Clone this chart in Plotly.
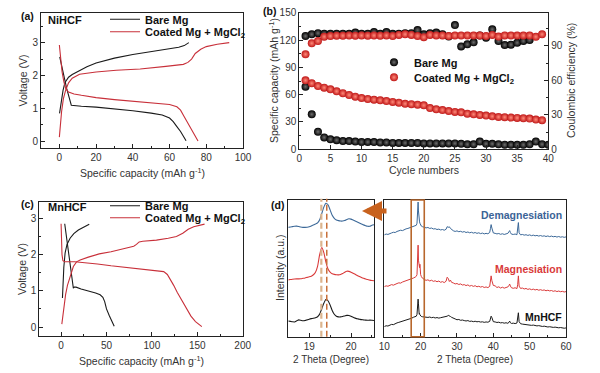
import plotly.graph_objects as go

F = "Liberation Sans, Arial, sans-serif"
W, H = 600, 373

# ---------------- Panel (a) NiHCF voltage profiles ----------------
a_bare_chg_cap = [0.1, 1, 2, 3, 5, 7, 10, 15, 20, 30, 40, 50, 60, 65, 68, 70.5]
a_bare_chg_v = [0.85, 1.2, 1.55, 1.78, 1.95, 2.03, 2.13, 2.27, 2.38, 2.53, 2.64, 2.72, 2.8, 2.86, 2.91, 3.0]
a_bare_dis_cap = [0.2, 2, 4, 6.5, 8, 12, 20, 30, 40, 50, 56, 60, 62, 64, 66, 69]
a_bare_dis_v = [2.57, 2.1, 1.6, 1.1, 1.09, 1.07, 1.04, 0.99, 0.93, 0.86, 0.8, 0.71, 0.6, 0.45, 0.3, 0.02]
a_coat_chg_cap = [0, 0.5, 1.2, 2.2, 3.4, 5, 7, 11, 20, 31, 44, 58, 64, 67.5, 70, 72, 74, 77, 80, 86, 92.5]
a_coat_chg_v = [0.13, 0.5, 0.9, 1.3, 1.55, 1.78, 1.92, 2.04, 2.11, 2.16, 2.2, 2.28, 2.31, 2.34, 2.4, 2.5, 2.67, 2.8, 2.88, 2.95, 3.0]
a_coat_dis_cap = [0, 0.7, 1.5, 2.5, 3.5, 5, 8, 12, 20, 30, 44, 55, 60, 64, 66, 68, 70, 72.5, 75.5]
a_coat_dis_v = [2.93, 2.5, 2.1, 1.8, 1.6, 1.5, 1.44, 1.4, 1.33, 1.27, 1.2, 1.15, 1.12, 1.05, 0.95, 0.75, 0.55, 0.3, 0.01]

# ---------------- Panel (b) cycling ----------------
b_cycles = [1, 2, 3, 4, 5, 6, 7, 8, 9, 10, 11, 12, 13, 14, 15, 16, 17, 18, 19, 20,
            21, 22, 23, 24, 25, 26, 27, 28, 29, 30, 31, 32, 33, 34, 35, 36, 37, 38, 39, 40]
b_bare_cap = [68.7, 38.4, 19.3, 13, 11, 10, 9, 9, 8.5, 8, 8, 8, 7.5, 7.5, 7, 7, 7, 7, 7, 6.5,
              6.5, 6.5, 6.5, 6.5, 6.5, 6, 5.5, 5.5, 8.5, 6, 6, 5.5, 5, 5, 5, 5, 5.5, 8.5, 5.5, 5]
b_coat_cap = [75.7, 72.5, 69.5, 67.7, 65.9, 63.7, 61.5, 59.6, 57.8, 56.3, 55.2, 54.5, 53.8, 53, 52,
              51.2, 50, 49.5, 49, 48.3, 45.3, 43.9, 43.1, 42, 41, 40.6, 39.1, 38.4, 37.7, 37,
              36.2, 35.5, 35.2, 34.8, 34.5, 34.1, 33.7, 32.6, 31.9]
b_bare_ce = [98.5, 100, 101, 100.5, 100.5, 100.5, 100.5, 100.5, 101.5, 100.5, 100.5, 102, 100.5,
             102, 100.5, 100.5, 101, 101, 103.7, 100, 101, 101.5, 100, 98, 108, 89.5, 91.3, 93,
             99, 97, 104.3, 94.2, 90.7, 91, 92.7, 94.2, 95]
b_coat_ce = [82.6, 92.2, 94.2, 97.9, 98.5, 98.8, 98.8, 99, 98.8, 99, 98.8, 99, 98.8, 99, 98.5,
             99.5, 100, 99.5, 98.5, 97.5, 99.5, 99, 99, 98.5, 99, 99, 99, 99, 99, 98.5, 99.5,
             98, 99, 99, 99, 99, 99, 97.9, 100]

# ---------------- Panel (c) MnHCF voltage profiles ----------------
c_bare_chg_cap = [1.5, 2, 3, 4.4, 6.5, 9.9, 14, 19, 25, 31]
c_bare_chg_v = [0.8, 1.2, 1.65, 2.04, 2.28, 2.45, 2.58, 2.68, 2.77, 2.84]
c_bare_dis_cap = [4, 6, 8, 10, 12, 13.5, 14.5, 16.5, 22, 30, 38, 43, 46, 48, 50, 53, 56, 58.5]
c_bare_dis_v = [2.85, 2.45, 2.05, 1.7, 1.35, 1.07, 1.1, 1.1, 1.05, 1.0, 0.94, 0.89, 0.82, 0.7, 0.5, 0.32, 0.15, 0.02]
c_coat_chg_cap = [0.8, 2, 3.5, 5, 7, 10, 13.5, 17, 21, 30, 42, 55, 70, 80, 83, 86, 90, 105, 118,
                  127, 134, 140, 146, 152, 158]
c_coat_chg_v = [0.08, 0.35, 0.65, 0.9, 1.15, 1.4, 1.67, 1.8, 1.85, 1.93, 2.02, 2.08, 2.17, 2.23,
                2.28, 2.35, 2.37, 2.4, 2.45, 2.5, 2.59, 2.7, 2.77, 2.81, 2.84]
c_coat_dis_cap = [0, 0.5, 1, 2, 4, 15, 25, 40, 55, 70, 90, 105, 113, 117, 120, 124, 128, 133, 138,
                  143, 148, 152, 155]
c_coat_dis_v = [2.85, 2.4, 2.0, 1.83, 1.8, 1.8, 1.78, 1.74, 1.69, 1.65, 1.6, 1.57, 1.53, 1.45, 1.33,
                1.15, 0.95, 0.72, 0.5, 0.3, 0.15, 0.06, 0.01]

# ---------------- Panel (d) XRD, zoomed ----------------
dl_2theta = [18.50, 18.55, 18.60, 18.65, 18.70, 18.75, 18.80, 18.85, 18.90, 18.95, 19.00, 19.05,
             19.10, 19.15, 19.20, 19.25, 19.30, 19.35, 19.40, 19.45, 19.50, 19.55, 19.60, 19.65,
             19.70, 19.75, 19.80, 19.85, 19.90, 19.95, 20.00, 20.05, 20.10, 20.15, 20.20, 20.25,
             20.30, 20.35, 20.40, 20.45, 20.50, 20.55]
dl_demag = [80.0, 80.2, 80.5, 80.8, 80.9, 80.6, 80.2, 80.0, 80.0, 80.1, 80.4, 81.0, 81.8, 82.5,
            83.3, 85.5, 90.0, 94.8, 97.6, 96.5, 92.8, 88.8, 86.6, 85.4, 84.9, 84.6, 84.6, 85.0,
            85.8, 86.3, 86.0, 85.3, 84.6, 83.9, 83.2, 82.5, 81.8, 81.2, 80.8, 80.8, 81.5, 81.9]
dl_mag = [41.6, 41.8, 42.0, 42.2, 42.3, 42.3, 42.4, 42.7, 43.0, 43.4, 43.8, 44.3, 45.3, 47.2,
          51.5, 60.0, 65.2, 61.5, 54.5, 49.5, 47.3, 46.1, 45.6, 45.3, 45.2, 45.5, 46.2, 47.2,
          47.9, 47.8, 47.2, 46.4, 45.6, 44.8, 44.0, 43.3, 42.7, 42.2, 41.8, 41.4, 41.1, 40.9]
dl_pristine = [11.5, 11.2, 10.9, 10.8, 11.6, 12.3, 12.0, 11.7, 11.8, 12.3, 12.8, 13.2, 13.5, 13.9,
               14.6, 16.5, 20.5, 24.5, 27.2, 26.3, 23.2, 19.2, 16.4, 15.0, 14.5, 14.5, 14.8, 15.2,
               15.6, 15.5, 14.9, 14.2, 13.6, 13.1, 12.8, 12.5, 12.3, 12.1, 12.0, 12.1, 12.0, 11.8]
ref_peaks = [19.29, 19.42]

# ---------------- Panel (d) XRD, full ----------------
dr_2theta = [10.0, 10.5, 11.0, 11.5, 12.0, 12.5, 13.0, 13.5, 14.0, 14.5, 15.0, 15.5, 16.0, 16.5,
             17.0, 17.5, 18.0, 18.5,
             18.8, 19.0, 19.1, 19.2, 19.3, 19.4, 19.5, 19.6, 19.7, 19.8, 19.9, 20.0, 20.2, 20.5,
             21.0, 21.5, 22.0, 22.5, 23.0, 23.5, 24.0, 24.5, 25.0, 25.5, 26.0, 26.5, 27.0,
             27.3, 27.6, 27.9, 28.2, 28.5,
             29.0, 29.5, 30.0, 30.5, 31.0, 31.5, 32.0, 32.5, 33.0, 33.5, 34.0, 34.5, 35.0, 35.5,
             36.0, 36.5, 37.0, 37.5, 38.0, 38.5, 39.0,
             39.2, 39.4, 39.6, 39.8, 40.0,
             40.5, 41.0, 41.5, 42.0, 42.5, 43.0, 43.5, 44.0,
             44.3, 44.5, 44.7, 45.0,
             45.5, 46.0, 46.5, 46.7, 46.9, 47.1, 47.5,
             48.0, 48.5, 49.0, 49.5, 50.0, 50.5, 51.0, 51.5, 52.0, 52.5, 53.0, 53.5, 54.0, 54.5,
             55.0, 55.5, 56.0, 56.5, 57.0, 57.5, 58.0, 58.5, 59.0, 59.5, 60.0]
dr_pristine = [7.4, 8.0, 7.8, 8.6, 9.0, 8.8, 9.7, 10.1, 10.5, 10.9, 11.4, 11.6, 12.3, 12.6, 13.2,
               13.5, 14.2, 14.6,
               15.0, 16.3, 18.5, 22.5, 27.5, 24.0, 18.0, 16.5, 17.0, 16.0, 15.4, 15.0, 14.8, 14.6,
               14.4, 14.7, 14.1, 14.4, 13.9, 14.2, 13.7, 14.0, 13.6, 13.9, 14.1, 14.3, 14.6,
               15.0, 15.6, 15.4, 14.8, 14.2,
               13.3, 13.0, 12.4, 12.6, 12.0, 12.2, 11.8, 11.5, 11.8, 11.2, 11.4, 11.0, 11.3, 10.9,
               11.1, 10.7, 10.9, 10.5, 10.8, 10.6, 11.2,
               13.0, 15.0, 14.0, 12.0, 11.0,
               10.8, 10.4, 10.6, 10.1, 10.3, 9.9, 10.2, 9.8,
               10.5, 11.4, 10.2, 9.7,
               9.9, 9.6, 10.0, 13.0, 17.5, 11.0, 9.5,
               9.2, 9.0, 8.7, 8.9, 8.5, 8.3, 8.5, 8.1, 7.9, 8.1, 7.7, 7.5, 7.7, 7.3, 7.1, 7.3, 6.9,
               6.8, 7.0, 6.6, 6.5, 6.7, 6.3, 6.2, 6.4]
dr_mag = [36.6, 37.2, 36.9, 37.8, 38.1, 37.7, 38.6, 38.9, 39.4, 39.2, 40.0, 40.4, 40.9, 41.3, 41.8,
          42.4, 42.9, 43.6,
          44.2, 45.5, 50.0, 58.0, 67.0, 56.0, 51.0, 52.5, 50.5, 53.0, 47.5, 45.4, 44.0, 42.8,
          41.9, 41.2, 41.6, 40.8, 41.3, 40.5, 40.9, 40.2, 40.7, 39.8, 40.3, 39.6, 40.6,
          43.5, 42.6, 40.4, 41.4, 39.8,
          39.3, 38.6, 38.9, 38.2, 38.6, 37.8, 38.1, 37.4, 37.9, 37.0, 37.5, 36.8, 37.3, 36.5,
          36.9, 36.3, 36.7, 36.0, 36.4, 35.9, 36.8,
          40.0, 44.5, 41.0, 38.0, 37.5,
          37.2, 36.0, 36.5, 35.6, 36.2, 35.5, 36.0, 36.4,
          37.5, 38.5, 37.0, 35.8,
          35.4, 35.8, 35.2, 38.0, 44.5, 37.0, 35.3,
          35.6, 34.9, 35.3, 34.6, 35.0, 34.4, 34.8, 34.2, 34.6, 34.0, 34.4, 33.9, 34.2, 33.6,
          34.0, 33.5, 33.8, 33.2, 33.6, 33.0, 33.4, 32.9, 33.2, 32.7, 33.0]
dr_demag = [74.5, 75.1, 74.8, 75.6, 75.9, 76.4, 76.2, 77.0, 77.4, 77.9, 77.6, 78.4, 78.9, 79.2,
            79.8, 80.1, 80.6, 81.0,
            81.5, 83.0, 88.0, 94.0, 98.5, 92.0, 86.0, 85.5, 84.0, 83.0, 82.2, 81.6, 80.9, 80.5,
            80.2, 79.6, 79.9, 79.2, 79.5, 78.8, 79.0, 78.4, 78.7, 78.1, 78.4, 77.9, 78.6,
            80.5, 80.0, 80.4, 79.2, 78.3,
            77.5, 77.0, 77.4, 76.8, 77.1, 76.5, 76.9, 76.2, 76.6, 76.0, 76.4, 75.8, 76.2, 75.6,
            76.0, 75.4, 75.8, 75.2, 75.6, 75.3, 76.2,
            79.0, 82.0, 79.5, 76.8, 75.9,
            75.6, 75.2, 75.5, 74.9, 75.3, 74.8, 75.2, 75.6,
            76.8, 77.6, 76.2, 75.0,
            74.8, 75.1, 74.6, 78.0, 83.5, 76.0, 74.5,
            74.8, 74.3, 74.6, 74.1, 74.5, 73.9, 74.3, 73.8, 74.1, 73.6, 74.0, 73.5, 73.8, 73.3,
            73.7, 73.2, 73.6, 73.1, 73.4, 72.9, 73.3, 72.8, 73.1, 72.7, 73.0]
zoom_box = [17.4, 21.0]

# ---------------- styles ----------------
BLACK = "#1a1a1a"
RED = "#c8303a"
XRD_BLUE = "#3b6898"
XRD_RED = "#d93a3a"
LBL_BLUE = "#3a6396"


def px(xp):
    return xp / W


def py(yp):
    return 1 - yp / H


fig = go.Figure()

# panel (a)
fig.add_trace(go.Scatter(x=a_bare_chg_cap, y=a_bare_chg_v, mode="lines", name="Bare Mg",
                         line=dict(color=BLACK, width=1.1), xaxis="x", yaxis="y", legend="legend"))
fig.add_trace(go.Scatter(x=a_bare_dis_cap, y=a_bare_dis_v, mode="lines", showlegend=False,
                         line=dict(color=BLACK, width=1.1), xaxis="x", yaxis="y"))
fig.add_trace(go.Scatter(x=a_coat_chg_cap, y=a_coat_chg_v, mode="lines",
                         name="Coated Mg + MgCl<sub>2</sub>",
                         line=dict(color=RED, width=1.1), xaxis="x", yaxis="y", legend="legend2"))
fig.add_trace(go.Scatter(x=a_coat_dis_cap, y=a_coat_dis_v, mode="lines", showlegend=False,
                         line=dict(color=RED, width=1.1), xaxis="x", yaxis="y"))

# panel (b)
ball_black = dict(size=8, color="#000000", gradient=dict(type="radial", color="#6e6e6e"), line=dict(width=0))
ball_red = dict(size=8, color="#c01818", gradient=dict(type="radial", color="#ff8a7a"), line=dict(width=0))
fig.add_trace(go.Scatter(x=b_cycles[:len(b_bare_ce)], y=b_bare_ce, mode="markers", showlegend=False,
                         marker=ball_black, xaxis="x2", yaxis="y3"))
fig.add_trace(go.Scatter(x=b_cycles[:len(b_bare_cap)], y=b_bare_cap, mode="markers", name="Bare Mg",
                         marker=ball_black, xaxis="x2", yaxis="y2", legend="legend3"))
fig.add_trace(go.Scatter(x=b_cycles[:len(b_coat_ce)], y=b_coat_ce, mode="markers", showlegend=False,
                         marker=ball_red, xaxis="x2", yaxis="y3"))
fig.add_trace(go.Scatter(x=b_cycles[:len(b_coat_cap)], y=b_coat_cap, mode="markers",
                         name="Coated Mg + MgCl<sub>2</sub>",
                         marker=ball_red, xaxis="x2", yaxis="y2", legend="legend4"))

# panel (c)
fig.add_trace(go.Scatter(x=c_bare_chg_cap, y=c_bare_chg_v, mode="lines", name="Bare Mg",
                         line=dict(color=BLACK, width=1.1), xaxis="x4", yaxis="y4", legend="legend5"))
fig.add_trace(go.Scatter(x=c_bare_dis_cap, y=c_bare_dis_v, mode="lines", showlegend=False,
                         line=dict(color=BLACK, width=1.1), xaxis="x4", yaxis="y4"))
fig.add_trace(go.Scatter(x=c_coat_chg_cap, y=c_coat_chg_v, mode="lines",
                         name="Coated Mg + MgCl<sub>2</sub>",
                         line=dict(color=RED, width=1.1), xaxis="x4", yaxis="y4", legend="legend6"))
fig.add_trace(go.Scatter(x=c_coat_dis_cap, y=c_coat_dis_v, mode="lines", showlegend=False,
                         line=dict(color=RED, width=1.1), xaxis="x4", yaxis="y4"))

# panel (d) left
for ys, col in [(dl_demag, XRD_BLUE), (dl_mag, XRD_RED), (dl_pristine, BLACK)]:
    fig.add_trace(go.Scatter(x=dl_2theta, y=ys, mode="lines", showlegend=False,
                             line=dict(color=col, width=1.1, shape="spline", smoothing=0.6),
                             xaxis="x5", yaxis="y5"))
# panel (d) right
for ys, col in [(dr_demag, XRD_BLUE), (dr_mag, XRD_RED), (dr_pristine, BLACK)]:
    fig.add_trace(go.Scatter(x=dr_2theta, y=ys, mode="lines", showlegend=False,
                             line=dict(color=col, width=1.0),
                             xaxis="x6", yaxis="y6"))

TICKF = dict(size=10, color="#333", family=F)
common = dict(showline=True, linecolor="#222", linewidth=1, mirror=True, ticks="inside",
              ticklen=4, tickcolor="#222", tickwidth=1, showgrid=False, zeroline=False,
              tickfont=TICKF, automargin=False, fixedrange=True)


def minor(d):
    return dict(ticks="inside", ticklen=2, dtick=d, tickcolor="#222", showgrid=False)


leg_common = dict(xanchor="left", yanchor="middle", bgcolor="rgba(0,0,0,0)", borderwidth=0,
                  itemwidth=30, font=dict(size=11, family=F, color="#111", weight="bold"))

layout = dict(
    width=W, height=H, margin=dict(l=0, r=0, t=0, b=0),
    paper_bgcolor="white", plot_bgcolor="white",
    font=dict(family=F, color="#333"),
    # (a)
    xaxis=dict(common, domain=[px(41), px(243)], range=[-10, 100], dtick=20, tick0=0,
               minor=minor(10), anchor="y"),
    yaxis=dict(common, domain=[py(148), py(13)], range=[-0.2, 3.9], dtick=1, tick0=0,
               minor=minor(0.5), anchor="x"),
    # (b)
    xaxis2=dict(common, domain=[px(299.3), px(548.3)], range=[0, 40], dtick=5, anchor="y2"),
    yaxis2=dict(common, domain=[py(149.3), py(12.7)], range=[0, 150], dtick=30,
                minor=minor(15), anchor="x2"),
    yaxis3=dict(common, mirror=False, overlaying="y2", side="right", range=[0, 118.8], dtick=30,
                minor=minor(15), anchor="x2"),
    # (c)
    xaxis4=dict(common, domain=[px(39.3), px(242.7)], range=[-24, 200], dtick=50, tick0=0,
                minor=minor(25), anchor="y4"),
    yaxis4=dict(common, domain=[py(335.7), py(201.7)], range=[-0.24, 3.46], dtick=1, tick0=0,
                minor=minor(0.5), anchor="x4"),
    # (d) left
    xaxis5=dict(common, domain=[px(288.3), px(374)], range=[18.5, 20.55], dtick=1, tick0=19,
                minor=minor(0.5), anchor="y5"),
    yaxis5=dict(common, domain=[py(336.7), py(200)], range=[0, 100], ticks="",
                showticklabels=False, anchor="x5"),
    # (d) right
    xaxis6=dict(common, domain=[px(384.3), px(566)], range=[10, 60], dtick=10,
                minor=minor(5), anchor="y6"),
    yaxis6=dict(common, domain=[py(336.7), py(200)], range=[0, 100], ticks="",
                showticklabels=False, anchor="x6"),
    legend=dict(leg_common, x=px(105), y=py(19.3)),
    legend2=dict(leg_common, x=px(105), y=py(31.7)),
    legend3=dict(leg_common, x=px(374), y=py(62.3)),
    legend4=dict(leg_common, x=px(374), y=py(77.3)),
    legend5=dict(leg_common, x=px(105), y=py(205.7)),
    legend6=dict(leg_common, x=px(105), y=py(217.7)),
)
fig.update_layout(**layout)

# shapes: reference dashed lines and zoom box
shapes = []
for xv, col, wd in zip(ref_peaks, ["#dbb48e", "#c8703a"], [2.2, 1.5]):
    shapes.append(dict(type="line", xref="x5", yref="y5 domain", x0=xv, x1=xv, y0=0, y1=1.01,
                       line=dict(color=col, width=wd, dash="6px,3px")))
shapes.append(dict(type="rect", xref="x6", yref="y6 domain", x0=zoom_box[0], x1=zoom_box[1],
                   y0=0, y1=1, line=dict(color="#b8672c", width=1.6)))
fig.update_layout(shapes=shapes)

ann = []


def text(t, x, y, size=10.5, bold=False, color="#333", angle=0, xanchor="center", yanchor="middle"):
    ann.append(dict(text=("<b>%s</b>" % t) if bold else t, x=px(x), y=py(y), xref="paper",
                    yref="paper", showarrow=False, textangle=angle, xanchor=xanchor,
                    yanchor=yanchor, font=dict(size=size, family=F, color=color)))


CAP = "Specific capacity (mAh g<sup>-1</sup>)"
text("(a)", 27, 16, size=10.5, bold=True, color="#111")
text("NiHCF", 46, 19.5, size=11, bold=True, color="#111", xanchor="left")
text(CAP, 142, 172)
text("Voltage (V)", 22, 80.5, angle=-90)
text("(b)", 269, 11, size=10.5, bold=True, color="#111")
text(CAP, 273, 81, angle=-90)
text("Coulombic efficiency (%)", 571, 81, angle=-90)
text("Cycle numbers", 424, 170)
text("(c)", 27, 204, size=10.5, bold=True, color="#111")
text("MnHCF", 46, 207, size=11, bold=True, color="#111", xanchor="left")
text(CAP, 141, 360)
text("Voltage (V)", 22, 269, angle=-90)
text("(d)", 277, 205, size=10.5, bold=True, color="#111")
text("Intensity (a.u.)", 280, 268, angle=-90)
text("2 Theta (Degree)", 331, 359, size=10)
text("2 Theta (Degree)", 475, 359, size=10)
text("Demagnesiation", 564, 215, size=10.5, bold=True, color=LBL_BLUE, xanchor="right")
text("Magnesiation", 564, 269, size=10.5, bold=True, color=XRD_RED, xanchor="right")
text("MnHCF", 564, 317, size=10.5, bold=True, color="#111", xanchor="right")

# arrow from full pattern to zoomed view
ann.append(dict(text="", x=px(362), y=py(211), xref="paper", yref="paper", showarrow=True,
                ax=26, ay=0, arrowhead=2, arrowsize=0.8, arrowwidth=5, arrowcolor="#c8621e",
                standoff=0, startstandoff=0))
fig.update_layout(annotations=ann)

fig.write_html("out.html", config={"displayModeBar": False, "staticPlot": True},
               post_script="document.body.style.margin='0px';document.body.style.overflow='hidden';")
